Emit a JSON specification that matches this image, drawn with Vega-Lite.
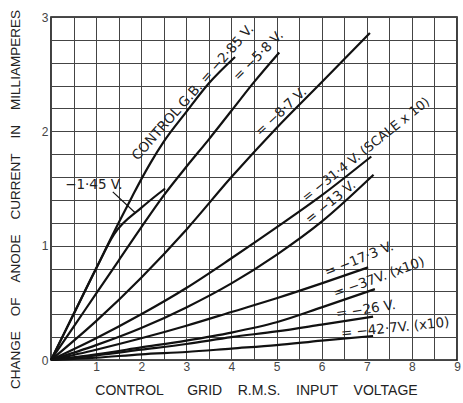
{
  "$schema": "https://vega.github.io/schema/vega-lite/v6.json",
  "width": 406,
  "height": 343,
  "autosize": {"type": "none"},
  "padding": {"left": 51, "top": 17, "right": 6, "bottom": 43},
  "background": "white",
  "config": {
    "view": {"stroke": "#111", "strokeWidth": 1.6},
    "font": "Liberation Sans"
  },
  "layer": [
    {
      "data": {"values": [
        {"bias": "-2.85", "x": 0, "y": 0}, {"bias": "-2.85", "x": 0.5, "y": 0.4}, {"bias": "-2.85", "x": 1, "y": 0.8}, {"bias": "-2.85", "x": 1.5, "y": 1.2}, {"bias": "-2.85", "x": 1.8, "y": 1.43}, {"bias": "-2.85", "x": 2.0, "y": 1.58}, {"bias": "-2.85", "x": 2.2, "y": 1.72}, {"bias": "-2.85", "x": 2.5, "y": 1.91}, {"bias": "-2.85", "x": 3.0, "y": 2.17}, {"bias": "-2.85", "x": 3.5, "y": 2.42}, {"bias": "-2.85", "x": 4.08, "y": 2.65},
        {"bias": "-1.45", "x": 0, "y": 0}, {"bias": "-1.45", "x": 0.5, "y": 0.4}, {"bias": "-1.45", "x": 1, "y": 0.8}, {"bias": "-1.45", "x": 1.4, "y": 1.1}, {"bias": "-1.45", "x": 2.0, "y": 1.33}, {"bias": "-1.45", "x": 2.53, "y": 1.5},
        {"bias": "-5.8", "x": 0, "y": 0}, {"bias": "-5.8", "x": 0.5, "y": 0.29}, {"bias": "-5.8", "x": 1, "y": 0.58}, {"bias": "-5.8", "x": 1.5, "y": 0.87}, {"bias": "-5.8", "x": 2, "y": 1.16}, {"bias": "-5.8", "x": 2.5, "y": 1.44}, {"bias": "-5.8", "x": 3, "y": 1.69}, {"bias": "-5.8", "x": 3.5, "y": 1.93}, {"bias": "-5.8", "x": 4, "y": 2.18}, {"bias": "-5.8", "x": 4.5, "y": 2.43}, {"bias": "-5.8", "x": 5.06, "y": 2.69},
        {"bias": "-8.7", "x": 0, "y": 0}, {"bias": "-8.7", "x": 1, "y": 0.34}, {"bias": "-8.7", "x": 2, "y": 0.72}, {"bias": "-8.7", "x": 3, "y": 1.14}, {"bias": "-8.7", "x": 4, "y": 1.6}, {"bias": "-8.7", "x": 5, "y": 2.03}, {"bias": "-8.7", "x": 6, "y": 2.43}, {"bias": "-8.7", "x": 7.07, "y": 2.86},
        {"bias": "-31.4", "x": 0, "y": 0}, {"bias": "-31.4", "x": 1, "y": 0.19}, {"bias": "-31.4", "x": 2, "y": 0.4}, {"bias": "-31.4", "x": 3, "y": 0.63}, {"bias": "-31.4", "x": 4, "y": 0.89}, {"bias": "-31.4", "x": 5, "y": 1.16}, {"bias": "-31.4", "x": 6, "y": 1.44}, {"bias": "-31.4", "x": 7.1, "y": 1.78},
        {"bias": "-13", "x": 0, "y": 0}, {"bias": "-13", "x": 1, "y": 0.13}, {"bias": "-13", "x": 2, "y": 0.28}, {"bias": "-13", "x": 3, "y": 0.46}, {"bias": "-13", "x": 4, "y": 0.67}, {"bias": "-13", "x": 5, "y": 0.92}, {"bias": "-13", "x": 6, "y": 1.21}, {"bias": "-13", "x": 7.15, "y": 1.62},
        {"bias": "-17.3", "x": 0, "y": 0}, {"bias": "-17.3", "x": 1, "y": 0.09}, {"bias": "-17.3", "x": 2, "y": 0.19}, {"bias": "-17.3", "x": 3, "y": 0.3}, {"bias": "-17.3", "x": 4, "y": 0.42}, {"bias": "-17.3", "x": 5, "y": 0.54}, {"bias": "-17.3", "x": 6, "y": 0.67}, {"bias": "-17.3", "x": 7.03, "y": 0.81},
        {"bias": "-37", "x": 0, "y": 0}, {"bias": "-37", "x": 1, "y": 0.05}, {"bias": "-37", "x": 2, "y": 0.11}, {"bias": "-37", "x": 3, "y": 0.17}, {"bias": "-37", "x": 4, "y": 0.24}, {"bias": "-37", "x": 5, "y": 0.33}, {"bias": "-37", "x": 6, "y": 0.46}, {"bias": "-37", "x": 7.18, "y": 0.62},
        {"bias": "-26", "x": 0, "y": 0}, {"bias": "-26", "x": 1, "y": 0.04}, {"bias": "-26", "x": 2, "y": 0.09}, {"bias": "-26", "x": 3, "y": 0.14}, {"bias": "-26", "x": 4, "y": 0.2}, {"bias": "-26", "x": 5, "y": 0.25}, {"bias": "-26", "x": 6, "y": 0.31}, {"bias": "-26", "x": 7.14, "y": 0.38},
        {"bias": "-42.7", "x": 0, "y": 0}, {"bias": "-42.7", "x": 1, "y": 0.02}, {"bias": "-42.7", "x": 2, "y": 0.05}, {"bias": "-42.7", "x": 3, "y": 0.07}, {"bias": "-42.7", "x": 4, "y": 0.1}, {"bias": "-42.7", "x": 5, "y": 0.13}, {"bias": "-42.7", "x": 6, "y": 0.17}, {"bias": "-42.7", "x": 7.14, "y": 0.21}
      ]},
      "mark": {"type": "line", "color": "#111", "strokeWidth": 2.2, "interpolate": "monotone"},
      "encoding": {
        "x": {
          "field": "x", "type": "quantitative",
          "scale": {"domain": [0, 9], "nice": false, "zero": false},
          "axis": {
            "values": [0, 0.5, 1, 1.5, 2, 2.5, 3, 3.5, 4, 4.5, 5, 5.5, 6, 6.5, 7, 7.5, 8, 8.5, 9],
            "tickCount": 100,
            "labelExpr": "datum.value > 0 && datum.value % 1 === 0 ? format(datum.value, 'd') : ''",
            "labelOverlap": false,
            "grid": true, "gridColor": "#444", "gridWidth": 1, "gridOpacity": 1,
            "ticks": false, "domain": false,
            "labelFlush": false, "labelPadding": 1, "labelFontSize": 12, "labelColor": "#444", "labelFont": "Liberation Sans",
            "title": "CONTROL\u00a0\u00a0\u00a0\u00a0\u00a0\u00a0GRID\u00a0\u00a0\u00a0\u00a0R.M.S.\u00a0\u00a0\u00a0\u00a0INPUT\u00a0\u00a0\u00a0\u00a0VOLTAGE",
            "titleFont": "Liberation Sans", "titleFontSize": 14, "titleFontWeight": "normal", "titleColor": "#222",
            "titleX": 205, "titleY": 30, "titleAlign": "center", "titleBaseline": "middle", "titleAnchor": null
          }
        },
        "y": {
          "field": "y", "type": "quantitative",
          "scale": {"domain": [0, 3], "nice": false},
          "axis": {
            "values": [0, 0.2, 0.4, 0.6, 0.8, 1, 1.2, 1.4, 1.6, 1.8, 2, 2.2, 2.4, 2.6, 2.8, 3],
            "tickCount": 100,
            "labelExpr": "datum.value % 1 === 0 ? format(datum.value, 'd') : ''",
            "labelOverlap": false,
            "grid": true, "gridColor": "#444", "gridWidth": 1, "gridOpacity": 1,
            "ticks": false, "domain": false,
            "labelFlush": false, "labelPadding": 3, "labelFontSize": 12, "labelColor": "#444", "labelFont": "Liberation Sans",
            "title": "CHANGE\u00a0\u00a0\u00a0\u00a0OF\u00a0\u00a0\u00a0\u00a0ANODE\u00a0\u00a0\u00a0\u00a0CURRENT\u00a0\u00a0\u00a0\u00a0IN\u00a0\u00a0\u00a0\u00a0MILLIAMPERES",
            "titleFont": "Liberation Sans", "titleFontSize": 13.5, "titleFontWeight": "normal", "titleColor": "#222",
            "titleAngle": -90, "titleX": -36, "titleY": 182, "titleAlign": "center", "titleBaseline": "middle", "titleAnchor": null
          }
        },
        "detail": {"field": "bias", "type": "nominal"}
      }
    },
    {
      "data": {"values": [{"x": 1.37, "y": 1.47, "x2": 1.86, "y2": 1.29}]},
      "mark": {"type": "rule", "color": "#111", "strokeWidth": 1.2},
      "encoding": {
        "x": {"field": "x", "type": "quantitative"},
        "y": {"field": "y", "type": "quantitative"},
        "x2": {"field": "x2"},
        "y2": {"field": "y2"}
      }
    },
    {
      "data": {"values": [{"x": 3.15, "y": 2.34, "label": "CONTROL G.B. = −2·85 V."}]},
      "mark": {"type": "text", "angle": -48.5, "fontSize": 13.5, "color": "#222", "font": "DejaVu Sans", "align": "center", "baseline": "middle"},
      "encoding": {"x": {"field": "x", "type": "quantitative"}, "y": {"field": "y", "type": "quantitative"}, "text": {"field": "label"}}
    },
    {
      "data": {"values": [{"x": 4.6, "y": 2.66, "label": "= −5·8 V."}]},
      "mark": {"type": "text", "angle": -45, "fontSize": 13.5, "color": "#222", "font": "DejaVu Sans", "align": "center", "baseline": "middle"},
      "encoding": {"x": {"field": "x", "type": "quantitative"}, "y": {"field": "y", "type": "quantitative"}, "text": {"field": "label"}}
    },
    {
      "data": {"values": [{"x": 5.1, "y": 2.17, "label": "= −8·7 V."}]},
      "mark": {"type": "text", "angle": -43, "fontSize": 13.5, "color": "#222", "font": "DejaVu Sans", "align": "center", "baseline": "middle"},
      "encoding": {"x": {"field": "x", "type": "quantitative"}, "y": {"field": "y", "type": "quantitative"}, "text": {"field": "label"}}
    },
    {
      "data": {"values": [{"x": 6.98, "y": 1.84, "label": "= −31·4 V. (SCALE x 10)"}]},
      "mark": {"type": "text", "angle": -38.5, "fontSize": 13, "color": "#222", "font": "DejaVu Sans", "align": "center", "baseline": "middle"},
      "encoding": {"x": {"field": "x", "type": "quantitative"}, "y": {"field": "y", "type": "quantitative"}, "text": {"field": "label"}}
    },
    {
      "data": {"values": [{"x": 6.2, "y": 1.38, "label": "= −13 V."}]},
      "mark": {"type": "text", "angle": -39, "fontSize": 13.5, "color": "#222", "font": "DejaVu Sans", "align": "center", "baseline": "middle"},
      "encoding": {"x": {"field": "x", "type": "quantitative"}, "y": {"field": "y", "type": "quantitative"}, "text": {"field": "label"}}
    },
    {
      "data": {"values": [{"x": 6.83, "y": 0.88, "label": "= −17·3 V."}]},
      "mark": {"type": "text", "angle": -22, "fontSize": 13.5, "color": "#222", "font": "DejaVu Sans", "align": "center", "baseline": "middle"},
      "encoding": {"x": {"field": "x", "type": "quantitative"}, "y": {"field": "y", "type": "quantitative"}, "text": {"field": "label"}}
    },
    {
      "data": {"values": [{"x": 7.27, "y": 0.72, "label": "= −37V. (x10)"}]},
      "mark": {"type": "text", "angle": -20, "fontSize": 13.5, "color": "#222", "font": "DejaVu Sans", "align": "center", "baseline": "middle"},
      "encoding": {"x": {"field": "x", "type": "quantitative"}, "y": {"field": "y", "type": "quantitative"}, "text": {"field": "label"}}
    },
    {
      "data": {"values": [{"x": 6.98, "y": 0.44, "label": "= −26 V."}]},
      "mark": {"type": "text", "angle": -9, "fontSize": 13.5, "color": "#222", "font": "DejaVu Sans", "align": "center", "baseline": "middle"},
      "encoding": {"x": {"field": "x", "type": "quantitative"}, "y": {"field": "y", "type": "quantitative"}, "text": {"field": "label"}}
    },
    {
      "data": {"values": [{"x": 7.63, "y": 0.28, "label": "= −42·7V. (x10)"}]},
      "mark": {"type": "text", "angle": -6, "fontSize": 13.5, "color": "#222", "font": "DejaVu Sans", "align": "center", "baseline": "middle"},
      "encoding": {"x": {"field": "x", "type": "quantitative"}, "y": {"field": "y", "type": "quantitative"}, "text": {"field": "label"}}
    },
    {
      "data": {"values": [{"x": 0.95, "y": 1.53, "label": "−1·45 V."}]},
      "mark": {"type": "text", "angle": 0, "fontSize": 13.5, "color": "#222", "font": "DejaVu Sans", "align": "center", "baseline": "middle"},
      "encoding": {"x": {"field": "x", "type": "quantitative"}, "y": {"field": "y", "type": "quantitative"}, "text": {"field": "label"}}
    }
  ]
}
